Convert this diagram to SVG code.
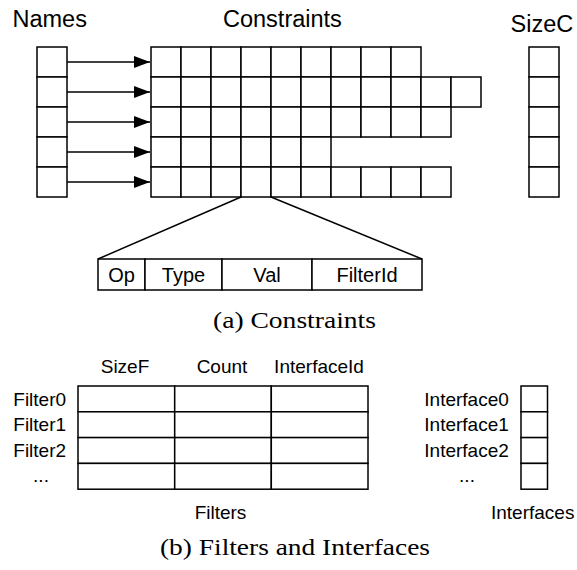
<svg xmlns="http://www.w3.org/2000/svg" width="577" height="570" viewBox="0 0 577 570">
  <defs>
    <style>
      .cell { fill: #fff; stroke: #000; stroke-width: 1.5; }
      .ln { fill: none; stroke: #000; stroke-width: 1.5; }
      .title { font-family: "Liberation Sans", Arial, Helvetica, sans-serif; font-size: 23.5px; fill: #000; }
      .field { font-family: "Liberation Sans", Arial, Helvetica, sans-serif; font-size: 20px; fill: #000; text-anchor: middle; }
      .lbl { font-family: "Liberation Sans", Arial, Helvetica, sans-serif; font-size: 19px; fill: #000; }
      .mid { text-anchor: middle; }
      .cap { font-family: "Liberation Serif", "Times New Roman", serif; font-size: 24px; fill: #000; }
    </style>
    <marker id="arrow" markerUnits="userSpaceOnUse" markerWidth="17" markerHeight="13" refX="16" refY="6" orient="auto">
      <path d="M0,0 L16,6 L0,12 Z" fill="#000"/>
    </marker>
    <rect id="c30" class="cell" width="30" height="30"/>
  </defs>

  <rect width="577" height="570" fill="#fff"/>

  <!-- (a) Constraints -->
  <g id="names">
    <text class="title" x="12.5" y="27.3">Names</text>
    <use href="#c30" x="37" y="47"/>
    <use href="#c30" x="37" y="77"/>
    <use href="#c30" x="37" y="107"/>
    <use href="#c30" x="37" y="137"/>
    <use href="#c30" x="37" y="167"/>
  </g>

  <g id="constraints">
    <text class="title" x="223" y="27.3">Constraints</text>
    <!-- row 0: 9 cells -->
    <use href="#c30" x="151" y="47"/><use href="#c30" x="181" y="47"/><use href="#c30" x="211" y="47"/>
    <use href="#c30" x="241" y="47"/><use href="#c30" x="271" y="47"/><use href="#c30" x="301" y="47"/>
    <use href="#c30" x="331" y="47"/><use href="#c30" x="361" y="47"/><use href="#c30" x="391" y="47"/>
    <!-- row 1: 11 cells -->
    <use href="#c30" x="151" y="77"/><use href="#c30" x="181" y="77"/><use href="#c30" x="211" y="77"/>
    <use href="#c30" x="241" y="77"/><use href="#c30" x="271" y="77"/><use href="#c30" x="301" y="77"/>
    <use href="#c30" x="331" y="77"/><use href="#c30" x="361" y="77"/><use href="#c30" x="391" y="77"/>
    <use href="#c30" x="421" y="77"/><use href="#c30" x="451" y="77"/>
    <!-- row 2: 10 cells -->
    <use href="#c30" x="151" y="107"/><use href="#c30" x="181" y="107"/><use href="#c30" x="211" y="107"/>
    <use href="#c30" x="241" y="107"/><use href="#c30" x="271" y="107"/><use href="#c30" x="301" y="107"/>
    <use href="#c30" x="331" y="107"/><use href="#c30" x="361" y="107"/><use href="#c30" x="391" y="107"/>
    <use href="#c30" x="421" y="107"/>
    <!-- row 3: 6 cells -->
    <use href="#c30" x="151" y="137"/><use href="#c30" x="181" y="137"/><use href="#c30" x="211" y="137"/>
    <use href="#c30" x="241" y="137"/><use href="#c30" x="271" y="137"/><use href="#c30" x="301" y="137"/>
    <!-- row 4: 10 cells -->
    <use href="#c30" x="151" y="167"/><use href="#c30" x="181" y="167"/><use href="#c30" x="211" y="167"/>
    <use href="#c30" x="241" y="167"/><use href="#c30" x="271" y="167"/><use href="#c30" x="301" y="167"/>
    <use href="#c30" x="331" y="167"/><use href="#c30" x="361" y="167"/><use href="#c30" x="391" y="167"/>
    <use href="#c30" x="421" y="167"/>
  </g>

  <g id="sizec">
    <text class="title" x="510.5" y="32.3">SizeC</text>
    <use href="#c30" x="529" y="47"/>
    <use href="#c30" x="529" y="77"/>
    <use href="#c30" x="529" y="107"/>
    <use href="#c30" x="529" y="137"/>
    <use href="#c30" x="529" y="167"/>
  </g>

  <g id="fields">
    <rect class="cell" x="98" y="259" width="47" height="31"/>
    <rect class="cell" x="145" y="259" width="77" height="31"/>
    <rect class="cell" x="222" y="259" width="90" height="31"/>
    <rect class="cell" x="312" y="259" width="110" height="31"/>
    <text class="field" x="121.5" y="282">Op</text>
    <text class="field" x="183.5" y="282">Type</text>
    <text class="field" x="267" y="282">Val</text>
    <text class="field" x="367" y="282">FilterId</text>
  </g>

  <g id="connectors">
    <line class="ln" x1="67" y1="62" x2="150" y2="62" marker-end="url(#arrow)"/>
    <line class="ln" x1="67" y1="92" x2="150" y2="92" marker-end="url(#arrow)"/>
    <line class="ln" x1="67" y1="122" x2="150" y2="122" marker-end="url(#arrow)"/>
    <line class="ln" x1="67" y1="152" x2="150" y2="152" marker-end="url(#arrow)"/>
    <line class="ln" x1="67" y1="182" x2="150" y2="182" marker-end="url(#arrow)"/>
    <!-- zoom lines from one constraint cell to its field layout -->
    <line class="ln" x1="241" y1="197" x2="98" y2="259"/>
    <line class="ln" x1="271" y1="197" x2="422" y2="259"/>
  </g>

  <text class="cap" x="213" y="328" textLength="163" lengthAdjust="spacingAndGlyphs">(a) Constraints</text>

  <!-- (b) Filters and Interfaces -->
  <g id="filters">
    <text class="lbl mid" x="125" y="373">SizeF</text>
    <text class="lbl mid" x="222" y="373">Count</text>
    <text class="lbl mid" x="319" y="373">InterfaceId</text>
    <rect class="cell" x="78" y="386" width="96.7" height="25.8"/>
    <rect class="cell" x="174.7" y="386" width="96.6" height="25.8"/>
    <rect class="cell" x="271.3" y="386" width="96.7" height="25.8"/>
    <rect class="cell" x="78" y="411.8" width="96.7" height="25.8"/>
    <rect class="cell" x="174.7" y="411.8" width="96.6" height="25.8"/>
    <rect class="cell" x="271.3" y="411.8" width="96.7" height="25.8"/>
    <rect class="cell" x="78" y="437.6" width="96.7" height="25.8"/>
    <rect class="cell" x="174.7" y="437.6" width="96.6" height="25.8"/>
    <rect class="cell" x="271.3" y="437.6" width="96.7" height="25.8"/>
    <rect class="cell" x="78" y="463.4" width="96.7" height="25.8"/>
    <rect class="cell" x="174.7" y="463.4" width="96.6" height="25.8"/>
    <rect class="cell" x="271.3" y="463.4" width="96.7" height="25.8"/>
    <text class="lbl" x="13.3" y="406">Filter0</text>
    <text class="lbl" x="13.3" y="430.5">Filter1</text>
    <text class="lbl" x="13.3" y="456.5">Filter2</text>
    <text class="lbl mid" x="41" y="482">...</text>
    <text class="lbl mid" x="220.5" y="518.5">Filters</text>
  </g>

  <g id="interfaces">
    <rect class="cell" x="521" y="386" width="26.5" height="25.8"/>
    <rect class="cell" x="521" y="411.8" width="26.5" height="25.8"/>
    <rect class="cell" x="521" y="437.6" width="26.5" height="25.8"/>
    <rect class="cell" x="521" y="463.4" width="26.5" height="25.8"/>
    <text class="lbl" x="424.3" y="405.5">Interface0</text>
    <text class="lbl" x="424.3" y="430.5">Interface1</text>
    <text class="lbl" x="424.3" y="456.5">Interface2</text>
    <text class="lbl mid" x="467" y="482">...</text>
    <text class="lbl" x="491" y="518.5">Interfaces</text>
  </g>

  <text class="cap" x="160" y="555" textLength="270" lengthAdjust="spacingAndGlyphs">(b) Filters and Interfaces</text>
</svg>
